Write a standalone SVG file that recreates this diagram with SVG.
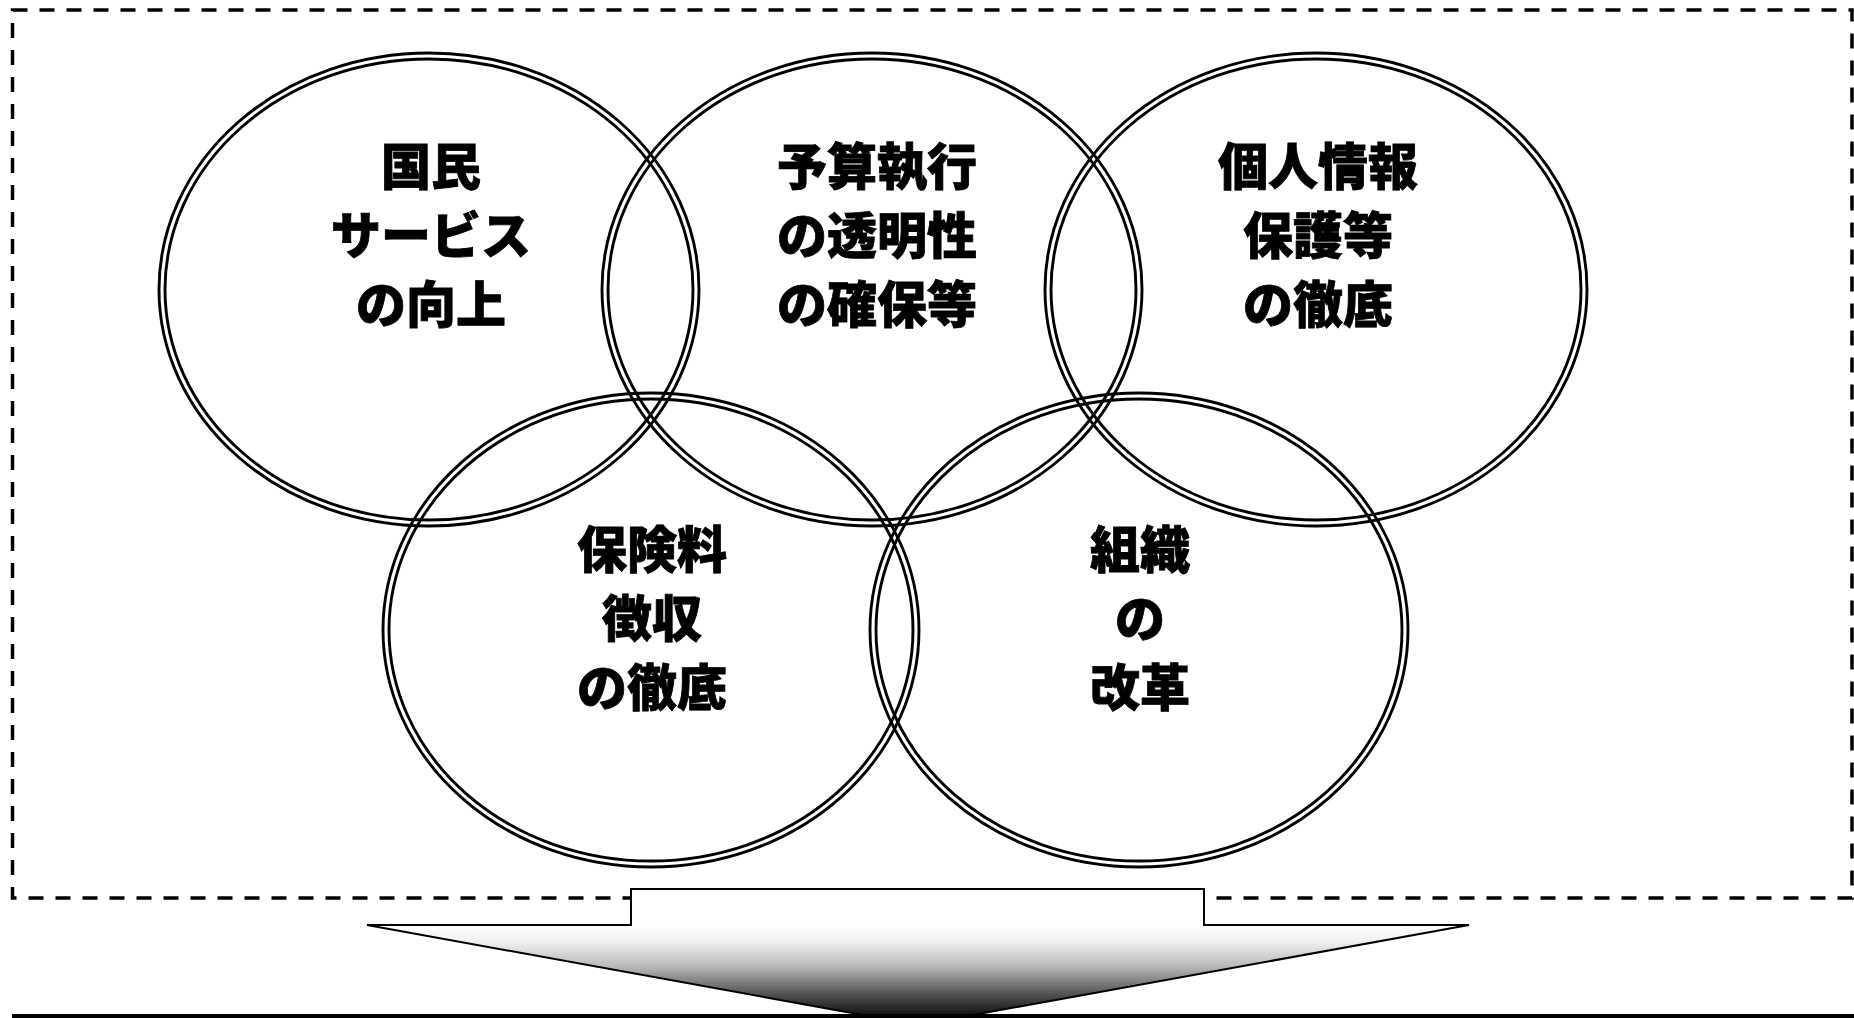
<svg xmlns="http://www.w3.org/2000/svg" width="1854" height="1018" viewBox="0 0 1854 1018">
  <style>
    .ring { fill: none; stroke: #000; stroke-width: 2.9; }
    .lbl { font-family: "Noto Sans CJK JP", "Noto Sans CJK SC", sans-serif; font-weight: 900; font-size: 50px; fill: #000; text-anchor: middle; dominant-baseline: central; stroke: #000; stroke-width: 0.8; }
    .frame { fill: none; stroke: #000; stroke-width: 3.5; stroke-dasharray: 15 12; }
  </style>
  <defs>
    <linearGradient id="fade" gradientUnits="userSpaceOnUse" x1="0" y1="925" x2="0" y2="1018">
      <stop offset="0" stop-color="#ffffff"/>
      <stop offset="0.18" stop-color="#f0f0f0"/>
      <stop offset="0.45" stop-color="#b8b8b8"/>
      <stop offset="0.75" stop-color="#505050"/>
      <stop offset="1" stop-color="#0a0a0a"/>
    </linearGradient>
  </defs>
  <rect width="1854" height="1018" fill="#fff"/>

  <rect class="frame" x="12.5" y="10" width="1839.5" height="888"/>

  <g id="node-kokumin">
    <ellipse class="ring" cx="429" cy="289.5" rx="270" ry="236.5"/>
    <ellipse class="ring" cx="429" cy="289.5" rx="264" ry="230.5"/>
    <text class="lbl" x="431" y="163">国民</text>
    <text class="lbl" x="431" y="232">サービス</text>
    <text class="lbl" x="431" y="301">の向上</text>
  </g>
  <g id="node-yosan">
    <ellipse class="ring" cx="872" cy="289.5" rx="270" ry="236.5"/>
    <ellipse class="ring" cx="872" cy="289.5" rx="264" ry="230.5"/>
    <text class="lbl" x="877" y="163">予算執行</text>
    <text class="lbl" x="877" y="232">の透明性</text>
    <text class="lbl" x="877" y="301">の確保等</text>
  </g>
  <g id="node-kojin">
    <ellipse class="ring" cx="1316" cy="289.5" rx="271" ry="236.5"/>
    <ellipse class="ring" cx="1316" cy="289.5" rx="265" ry="230.5"/>
    <text class="lbl" x="1318" y="163">個人情報</text>
    <text class="lbl" x="1318" y="232">保護等</text>
    <text class="lbl" x="1318" y="301">の徹底</text>
  </g>
  <g id="node-hokenryo">
    <ellipse class="ring" cx="651" cy="630" rx="268" ry="237"/>
    <ellipse class="ring" cx="651" cy="630" rx="262" ry="231"/>
    <text class="lbl" x="652" y="546">保険料</text>
    <text class="lbl" x="652" y="615">徴収</text>
    <text class="lbl" x="652" y="684">の徹底</text>
  </g>
  <g id="node-soshiki">
    <ellipse class="ring" cx="1139" cy="630" rx="269" ry="237"/>
    <ellipse class="ring" cx="1139" cy="630" rx="263" ry="231"/>
    <text class="lbl" x="1140" y="546">組織</text>
    <text class="lbl" x="1140" y="615">の</text>
    <text class="lbl" x="1140" y="684">改革</text>
  </g>

  <g id="connectors">
    <polygon points="631,889 1204,889 1204,925 1469,925 918,1025 367,925 631,925" fill="url(#fade)" stroke="#000" stroke-width="2"/>
  </g>

  <line x1="12" y1="1016" x2="1854" y2="1016" stroke="#000" stroke-width="4"/>
</svg>
